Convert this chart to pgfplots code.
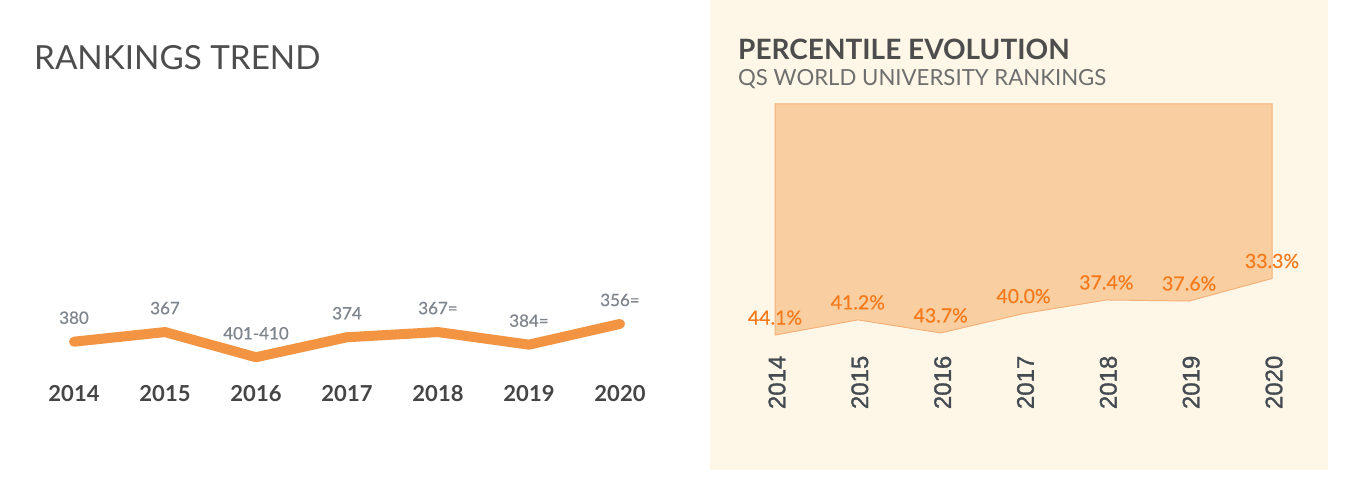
\documentclass[border=0pt]{standalone}
\usepackage{pgfplots}
\pgfplotsset{compat=1.18}
\usepackage{fontspec}
\setmainfont{Lato}
\newfontfamily\arialf[FakeBold=1.2]{Liberation Sans}
\newfontfamily\latomed[FakeBold=0.5]{Lato}
\definecolor{lineorange}{HTML}{F29441}
\definecolor{labelgray}{HTML}{7E858C}
\definecolor{yeardark}{HTML}{454545}
\definecolor{titlegray}{HTML}{4D4D4D}
\definecolor{subgray}{HTML}{6E6E6E}
\definecolor{cream}{HTML}{FEF7E7}
\definecolor{areafill}{HTML}{F9CFA1}
\definecolor{areaedge}{HTML}{F4B27A}
\definecolor{pctorange}{HTML}{F57A1C}
\definecolor{rotgray}{HTML}{454B53}
\begin{document}
\begin{tikzpicture}[x=1pt,y=1pt]
\fill[white] (0,0) rectangle (1349,494);
\fill[cream] (710,24) rectangle (1328,494);
\node[anchor=base west, inner sep=0pt, font=\fontsize{33.2}{33.2}\selectfont, text=titlegray] at (34,424) {RANKINGS TREND};
\node[anchor=base west, inner sep=0pt, font=\bfseries\fontsize{28}{28}\selectfont, text=titlegray] at (738,434) {PERCENTILE EVOLUTION};
\node[anchor=base west, inner sep=0pt, font=\fontsize{22.2}{22.2}\selectfont, text=subgray] at (738,408) {QS WORLD UNIVERSITY RANKINGS};

\begin{axis}[at={(74pt,122.7pt)}, anchor=south west, scale only axis,
  width=546pt, height=59.2pt, xmin=0, xmax=6, ymin=340, ymax=420,
  y dir=reverse, clip=false,
  axis x line*=bottom, axis y line=none, x axis line style={draw=none},
  major tick length=0pt, ytick=\empty,
  xtick={0,1,2,3,4,5,6},
  xticklabels={2014,2015,2016,2017,2018,2019,2020},
  xticklabel style={anchor=center, yshift=-22.7pt, font=\bfseries\fontsize{22}{22}\selectfont, text=yeardark}]
\addplot[lineorange, line width=10pt, line join=round, line cap=round,
  nodes near coords, point meta=explicit symbolic,
  every node near coord/.style={anchor=center, yshift=24pt, font=\latomed\fontsize{17}{17}\selectfont, text=labelgray}]
  coordinates {(0,380)[380] (1,367)[367] (2,401)[401-410] (3,374)[374] (4,367)[367=] (5,384)[384=] (6,356)[356=]};
\end{axis}

\begin{axis}[at={(775pt,138.5pt)}, anchor=south west, scale only axis,
  width=497pt, height=251.5pt, xmin=0, xmax=6, ymin=0, ymax=48,
  y dir=reverse, clip=false,
  axis x line*=bottom, axis y line=none, x axis line style={draw=none},
  major tick length=0pt, ytick=\empty,
  xtick={0,1,2,3,4,5,6},
  xticklabels={2014,2015,2016,2017,2018,2019,2020},
  xticklabel style={rotate=90, anchor=east, inner sep=0pt, yshift=-2pt, font=\arialf\fontsize{24}{24}\selectfont, text=rotgray}]
\addplot[fill=areafill, draw=areaedge, line width=1pt]
  coordinates {(0,44.1) (1,41.2) (2,43.7) (3,40.0) (4,37.4) (5,37.6) (6,33.3)} \closedcycle;
\addplot[draw=none, nodes near coords, point meta=explicit symbolic,
  every node near coord/.style={anchor=center, yshift=17.5pt, font=\latomed\fontsize{19.5}{19.5}\selectfont, text=pctorange}]
  coordinates {(0,44.1)[44.1\%] (1,41.2)[41.2\%] (2,43.7)[43.7\%] (3,40.0)[40.0\%] (4,37.4)[37.4\%] (5,37.6)[37.6\%] (6,33.3)[33.3\%]};
\end{axis}
\end{tikzpicture}
\end{document}
